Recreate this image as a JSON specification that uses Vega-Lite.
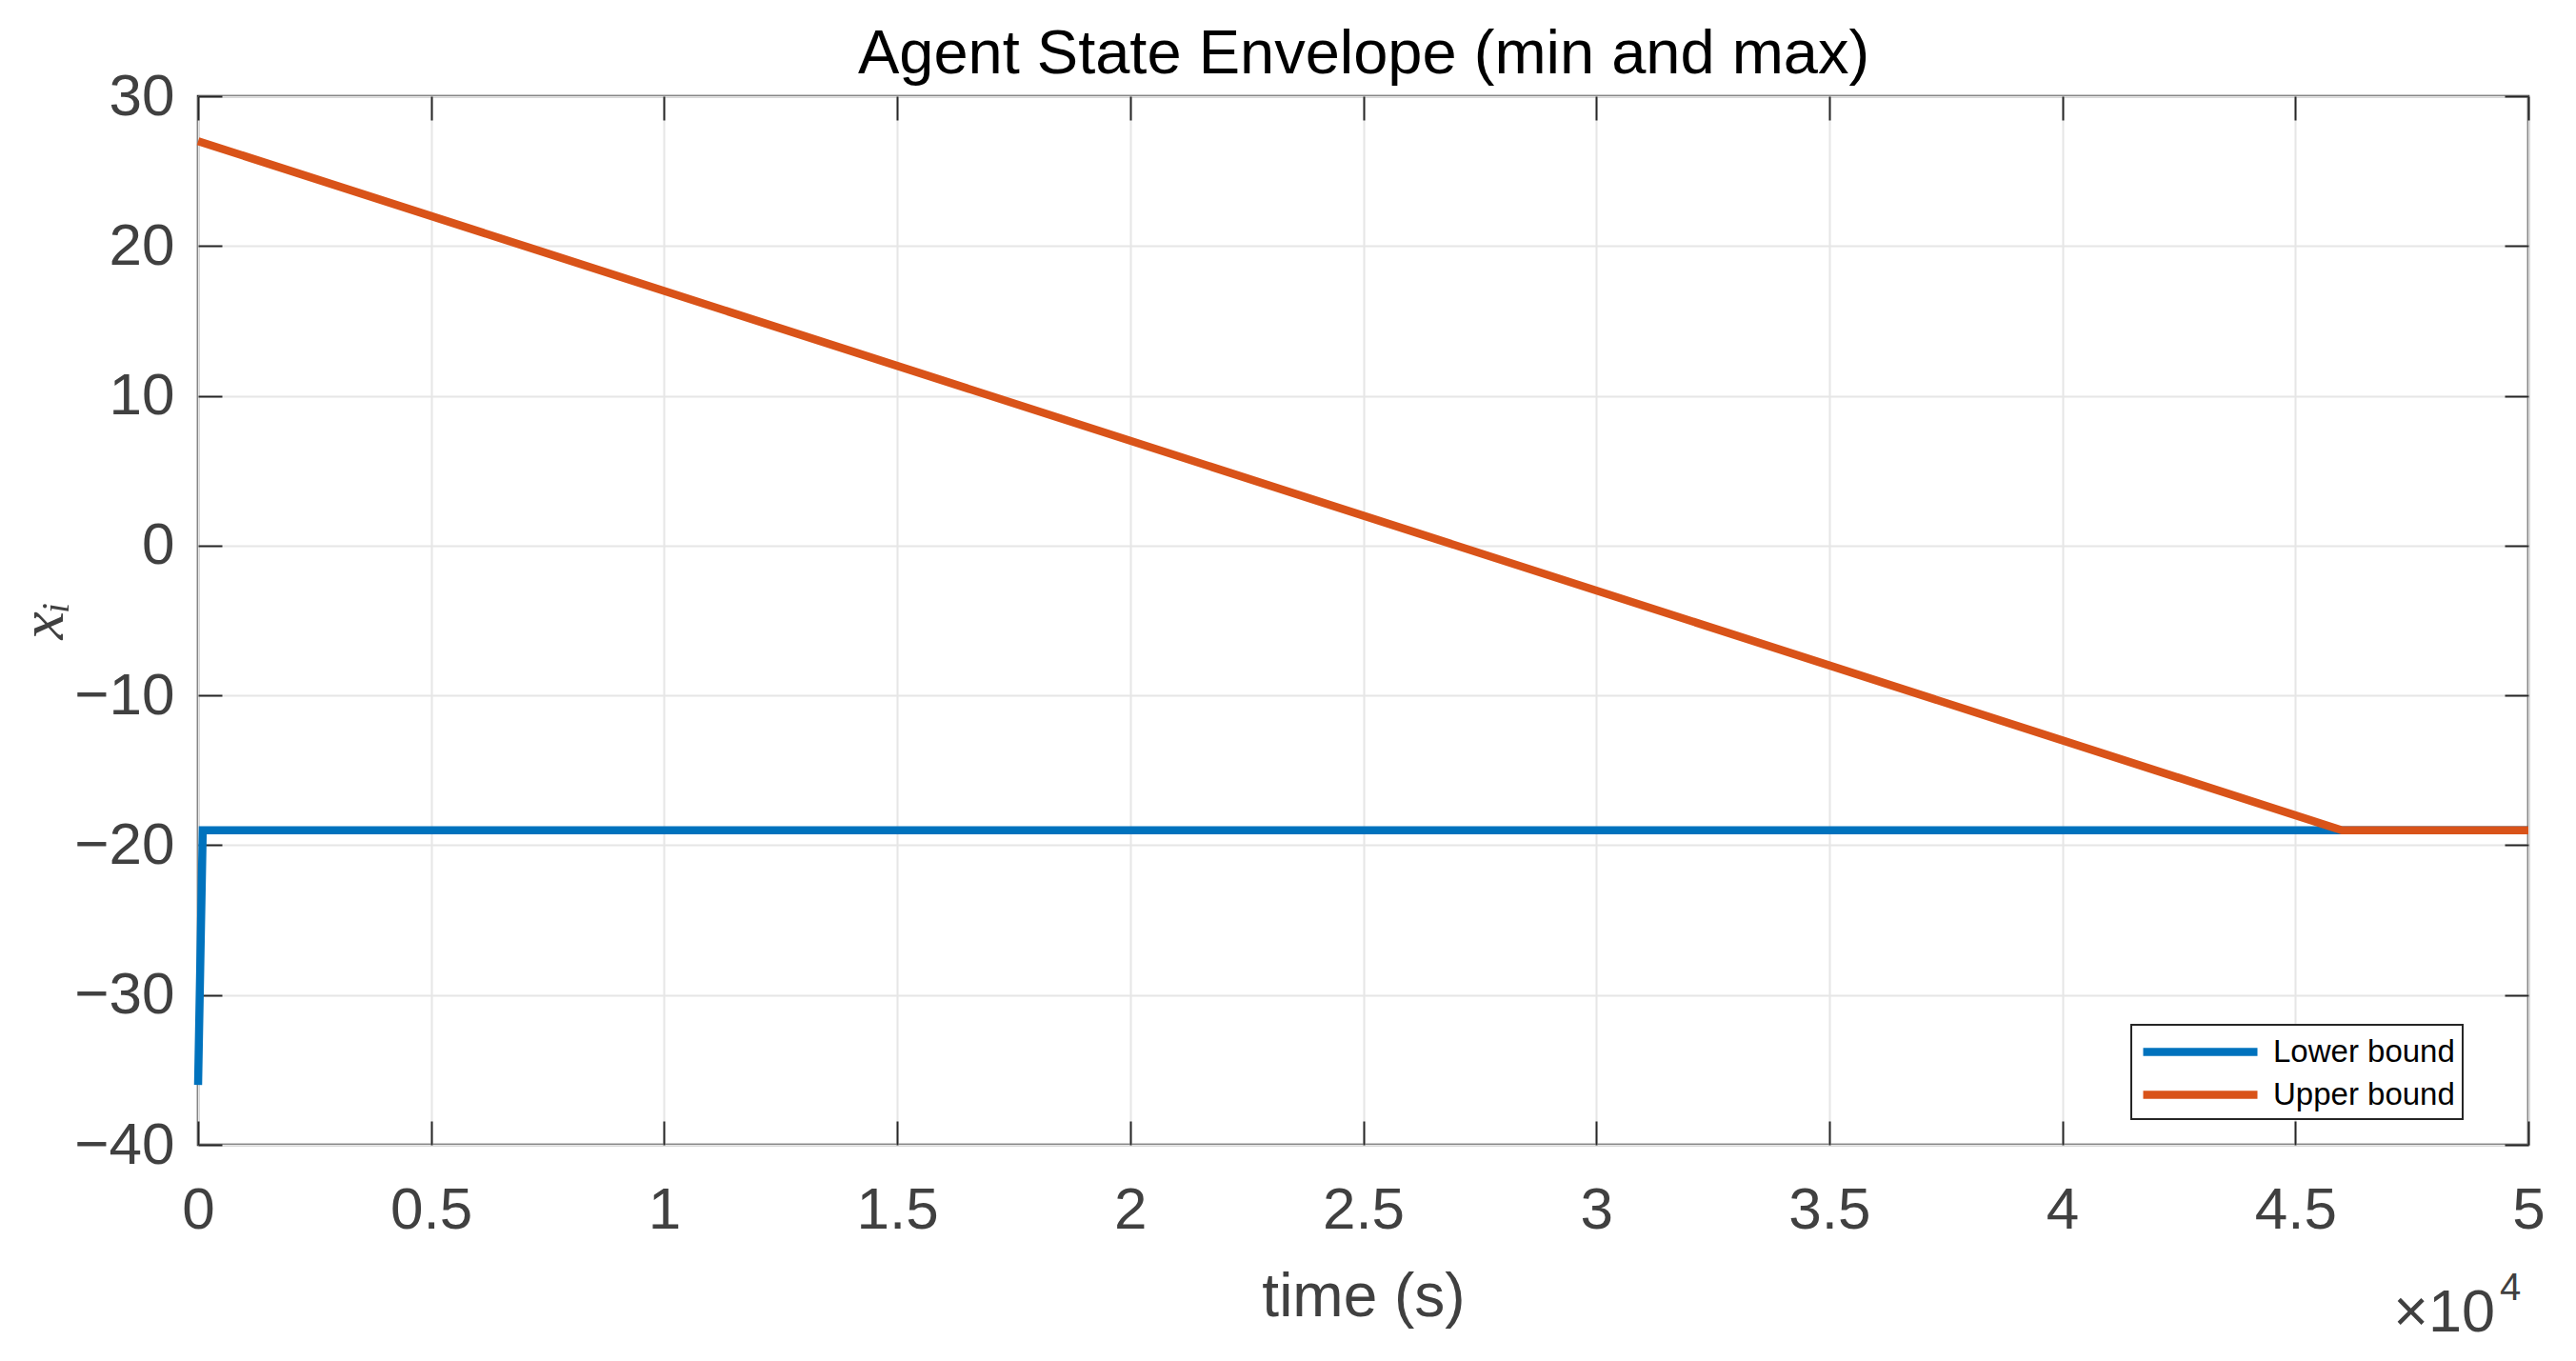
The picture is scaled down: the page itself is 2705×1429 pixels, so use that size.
{
  "$schema": "https://vega.github.io/schema/vega-lite/v6.json",
  "autosize": "none",
  "width": 2447,
  "height": 1101,
  "padding": {"left": 208, "top": 101, "right": 50, "bottom": 227},
  "background": "white",
  "data": {
    "values": [
      {"series": "Lower bound", "t": 0, "x": -36},
      {"series": "Lower bound", "t": 100, "x": -19},
      {"series": "Lower bound", "t": 50000, "x": -19},
      {"series": "Upper bound", "t": 0, "x": 27},
      {"series": "Upper bound", "t": 46000, "x": -19},
      {"series": "Upper bound", "t": 50000, "x": -19}
    ]
  },
  "layer": [
    {
      "mark": {"type": "line", "strokeWidth": 8.5},
      "encoding": {
        "x": {
          "field": "t", "type": "quantitative",
          "scale": {"domain": [0, 50000], "nice": false},
          "axis": {
            "orient": "bottom",
            "values": [0, 5000, 10000, 15000, 20000, 25000, 30000, 35000, 40000, 45000, 50000],
            "labelExpr": "datum.value / 10000",
            "title": "time (s)",
            "titleY": 179,
            "titleBaseline": "alphabetic",
            "titleFontSize": 64,
            "labelPadding": 63,
            "labelFlush": false
          }
        },
        "y": {
          "field": "x", "type": "quantitative",
          "scale": {"domain": [-40, 30], "nice": false, "zero": false},
          "axis": {
            "orient": "left",
            "values": [-40, -30, -20, -10, 0, 10, 20, 30],
            "title": "xᵢ",
            "titleFont": "Liberation Serif",
            "titleFontStyle": "italic",
            "titleFontWeight": "normal",
            "titleFontSize": 66,
            "titleAngle": -90,
            "titleX": -143,
            "titleY": 550,
            "titleAlign": "center",
            "titleBaseline": "alphabetic",
            "labelPadding": 50
          }
        },
        "color": {
          "field": "series", "type": "nominal",
          "scale": {"domain": ["Lower bound", "Upper bound"], "range": ["#0072BD", "#D95319"]},
          "legend": {
            "title": null,
            "orient": "none",
            "legendX": 2030,
            "legendY": 975,
            "symbolType": "M-1,0H6.5",
            "symbolSize": 1024,
            "symbolStrokeWidth": 8.5,
            "labelOffset": 100,
            "labelFont": "Liberation Sans",
            "labelFontSize": 33,
            "labelLimit": 500,
            "labelColor": "#000000",
            "rowPadding": 7,
            "padding": 8,
            "fillColor": "white",
            "strokeColor": "#262626"
          }
        }
      }
    },
    {
      "mark": {"type": "line", "strokeOpacity": 0},
      "encoding": {
        "x": {
          "field": "t", "type": "quantitative",
          "axis": {
            "orient": "top",
            "values": [0, 5000, 10000, 15000, 20000, 25000, 30000, 35000, 40000, 45000, 50000],
            "labels": false, "grid": false,
            "title": "Agent State Envelope (min and max)",
            "titleFontSize": 65,
            "titleColor": "#000000",
            "titleBaseline": "alphabetic",
            "titleY": -25
          }
        },
        "y": {
          "field": "x", "type": "quantitative",
          "axis": {
            "orient": "right",
            "values": [-40, -30, -20, -10, 0, 10, 20, 30],
            "labels": false, "grid": false, "title": null
          }
        },
        "detail": {"field": "series"}
      }
    },
    {
      "data": {"values": [{"label": "×10"}]},
      "mark": {"type": "text", "align": "right", "baseline": "alphabetic", "dx": -35, "dy": 196, "fontSize": 63, "font": "Liberation Sans", "color": "#404040"},
      "encoding": {
        "x": {"datum": 50000, "type": "quantitative", "axis": null},
        "y": {"datum": -40, "type": "quantitative", "axis": null},
        "text": {"field": "label"}
      }
    },
    {
      "data": {"values": [{"label": "4"}]},
      "mark": {"type": "text", "align": "left", "baseline": "alphabetic", "dx": -30, "dy": 163, "fontSize": 40, "font": "Liberation Sans", "color": "#404040"},
      "encoding": {
        "x": {"datum": 50000, "type": "quantitative", "axis": null},
        "y": {"datum": -40, "type": "quantitative", "axis": null},
        "text": {"field": "label"}
      }
    }
  ],
  "resolve": {"axis": {"x": "independent", "y": "independent"}},
  "config": {
    "view": {"stroke": "#262626", "strokeWidth": 2.5},
    "legend": {"strokeWidth": 2},
    "axis": {
      "domain": false,
      "ticks": true,
      "tickSize": -25,
      "tickWidth": 2,
      "tickColor": "#262626",
      "grid": true,
      "gridColor": "#e6e6e6",
      "gridWidth": 2,
      "labelFont": "Liberation Sans",
      "labelFontSize": 62,
      "labelColor": "#404040",
      "titleFont": "Liberation Sans",
      "titleColor": "#404040",
      "titleFontWeight": "normal"
    }
  }
}
